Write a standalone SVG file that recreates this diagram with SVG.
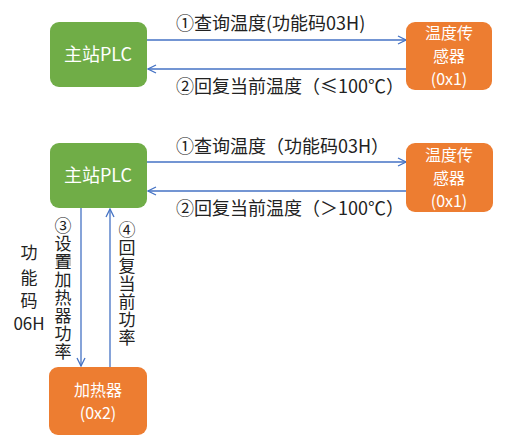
<svg xmlns="http://www.w3.org/2000/svg" width="515" height="441" viewBox="0 0 515 441">
<defs>
<style>
.t{font-family:"Noto Sans CJK SC","Noto Sans",sans-serif;font-size:17px;fill:#222}
.h{font-size:18px}
.v{writing-mode:vertical-rl;letter-spacing:1px}
.w{font-family:"Noto Sans CJK SC","Noto Sans",sans-serif;font-size:18px;fill:#fff;text-anchor:middle}
.s{font-size:16px}
.g{fill:#70AD47}
.o{fill:#ED7D31}
.c{stroke:#4472C4;stroke-width:1.3;fill:none;marker-end:url(#ah)}
</style>
<marker id="ah" viewBox="0 0 10 10" refX="9" refY="5" markerWidth="10" markerHeight="10" markerUnits="userSpaceOnUse" orient="auto">
<path d="M1,1 L9,5 L1,9" fill="none" stroke="#4472C4" stroke-width="1.3"/>
</marker>
</defs>
<rect width="515" height="441" fill="#fff"/>
<g id="connectors">
<line class="c" x1="147" y1="40" x2="406" y2="40"/>
<line class="c" x1="406" y1="69" x2="148" y2="69"/>
<line class="c" x1="147" y1="162" x2="406" y2="162"/>
<line class="c" x1="406" y1="191" x2="148" y2="191"/>
<line class="c" x1="81" y1="208" x2="81" y2="366"/>
<line class="c" x1="110" y1="367" x2="110" y2="209"/>
</g>
<g id="labels">
<text class="t h" x="176" y="30">①查询温度(功能码03H)</text>
<text class="t h" x="176" y="93">②回复当前温度（≤100℃）</text>
<text class="t h" x="176" y="153">①查询温度（功能码03H）</text>
<text class="t h" x="176" y="215">②回复当前温度（＞100℃）</text>
<rect x="56" y="254" width="15" height="12" fill="#c8c8c8"/>
<text class="t v" x="63" y="217">③设置加热器功率</text>
<text class="t v" x="127" y="221">④回复当前功率</text>
<text class="t" text-anchor="middle"><tspan x="29" y="259">功</tspan><tspan x="29" y="284">能</tspan><tspan x="29" y="307">码</tspan><tspan x="29" y="330">06H</tspan></text>
</g>
<g id="plc1"><rect class="g" x="50" y="22" width="97" height="65" rx="9"/><text class="w" x="98" y="61">主站PLC</text></g>
<g id="sensor1"><rect class="o" x="406" y="22" width="86" height="68" rx="9"/><text class="w s"><tspan x="449" y="39">温度传</tspan><tspan x="449" y="62">感器</tspan><tspan x="449" y="85">(0x1)</tspan></text></g>
<g id="plc2"><rect class="g" x="50" y="143" width="97" height="65" rx="9"/><text class="w" x="98" y="182">主站PLC</text></g>
<g id="sensor2"><rect class="o" x="406" y="143" width="87" height="69" rx="9"/><text class="w s"><tspan x="449" y="161">温度传</tspan><tspan x="449" y="184">感器</tspan><tspan x="449" y="207">(0x1)</tspan></text></g>
<g id="heater"><rect class="o" x="49" y="367" width="98" height="68" rx="9"/><text class="w s"><tspan x="98" y="396">加热器</tspan><tspan x="98" y="419">(0x2)</tspan></text></g>
</svg>
